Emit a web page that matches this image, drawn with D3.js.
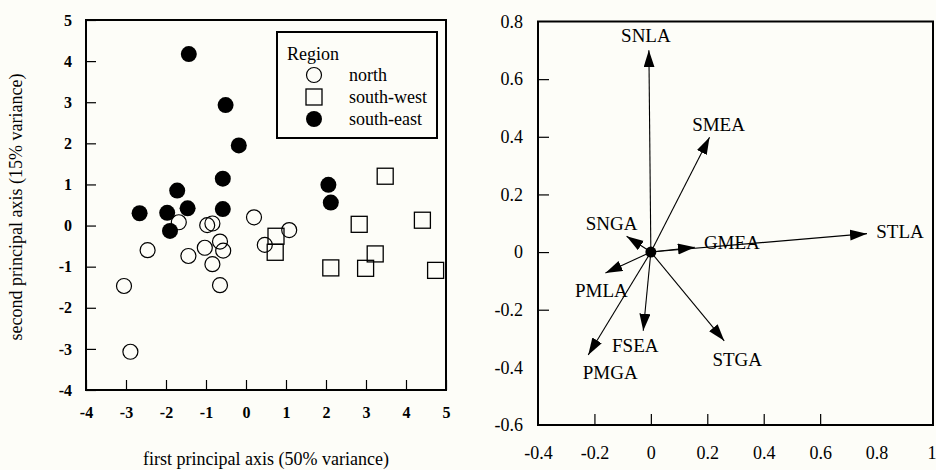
<!DOCTYPE html>
<html>
<head>
<meta charset="utf-8">
<script src="https://cdn.jsdelivr.net/npm/d3@7"></script>
<style>
  body { margin: 0; background: #fdfdf8; }
  svg { display: block; }
  text { font-family: "Liberation Serif", "Times New Roman", serif; fill: #000; }
</style>
</head>
<body>
<div id="chart"></div>
<script>
// PCA scores
const north = [
  [-1.68, 0.08], [-0.97, 0.01], [-0.84, 0.05], [0.2, 0.2], [1.08, -0.11],
  [0.47, -0.47], [-2.46, -0.6], [-1.44, -0.74], [-1.03, -0.54], [-0.65, -0.39],
  [-0.57, -0.61], [-0.84, -0.94], [-0.65, -1.45], [-3.05, -1.47], [-2.89, -3.07]
];
const southWest = [
  [0.75, -0.26], [0.73, -0.65], [2.83, 0.03], [4.41, 0.13], [3.23, -0.69],
  [2.12, -1.03], [2.99, -1.04], [4.74, -1.09], [3.48, 1.2]
];
const southEast = [
  [-1.43, 4.17], [-0.51, 2.93], [-0.18, 1.95], [-0.58, 1.14], [-1.72, 0.85],
  [2.06, 0.99], [2.12, 0.56], [-2.66, 0.3], [-1.97, 0.31], [-1.46, 0.42],
  [-0.58, 0.4], [-1.9, -0.13]
];
const scoreTicks = [-4, -3, -2, -1, 0, 1, 2, 3, 4, 5];

// loadings
const variables = ['SNLA', 'SMEA', 'STLA', 'GMEA', 'SNGA', 'PMLA', 'PMGA', 'FSEA', 'STGA'];
const loadX = [-0.007, 0.208, 0.766, 0.156, -0.086, -0.161, -0.222, -0.027, 0.26];
const loadY = [0.70, 0.398, 0.064, 0.017, 0.055, -0.073, -0.357, -0.273, -0.308];
const loadXTicks = [-0.4, -0.2, 0, 0.2, 0.4, 0.6, 0.8, 1];
const loadYTicks = [-0.6, -0.4, -0.2, 0, 0.2, 0.4, 0.6, 0.8];

// label offsets from the arrow tips (px)
const labelOffset = {
  SNLA: [-3, -8], SMEA: [9, -6], STLA: [33, 4], GMEA: [37, 1.5], SNGA: [-15, -6],
  PMLA: [-4, 24], PMGA: [22, 24], FSEA: [-8, 21], STGA: [13, 25]
};

// plain hyphen for negatives, like the original
const fmt = d => {
  const s = (d === 0 || Number.isInteger(d)) ? String(d) : d.toFixed(1);
  return s.replace('\u2212', '-');
};

const W = 936, H = 470;
const svg = d3.select('#chart').append('svg').attr('width', W).attr('height', H);
svg.append('rect').attr('width', W).attr('height', H).attr('fill', '#fdfdf8');

// ---------- left: scores ----------
const x1 = d3.scaleLinear().domain([-4, 5]).range([86, 446]);
const y1 = d3.scaleLinear().domain([-4, 5]).range([390, 20]);

const left = svg.append('g');

left.append('g')
  .attr('transform', `translate(0,${y1.range()[0]})`)
  .call(d3.axisBottom(x1).tickValues(scoreTicks).tickSize(-10).tickPadding(17).tickFormat(fmt))
  .call(g => g.select('.domain').remove());

left.append('g')
  .attr('transform', `translate(${x1.range()[0]},0)`)
  .call(d3.axisLeft(y1).tickValues(scoreTicks).tickSize(-10).tickPadding(14).tickFormat(fmt))
  .call(g => g.select('.domain').remove());

left.selectAll('.tick line').attr('stroke', '#000').attr('stroke-width', 1.2);
left.selectAll('.tick text')
  .attr('font-size', 16).attr('font-weight', 'bold')
  .style('font-family', '"Liberation Serif", serif');

left.append('rect')
  .attr('x', x1(-4)).attr('y', y1(5))
  .attr('width', x1(5) - x1(-4)).attr('height', y1(-4) - y1(5))
  .attr('fill', 'none').attr('stroke', '#000').attr('stroke-width', 2);

left.selectAll('circle.north')
  .data(north).enter().append('circle')
  .attr('class', 'north')
  .attr('cx', d => x1(d[0])).attr('cy', d => y1(d[1]))
  .attr('r', 7.5)
  .attr('fill', 'none').attr('stroke', '#000').attr('stroke-width', 1.2);

left.selectAll('rect.sw')
  .data(southWest).enter().append('rect')
  .attr('class', 'sw')
  .attr('x', d => x1(d[0]) - 8).attr('y', d => y1(d[1]) - 8)
  .attr('width', 16).attr('height', 16)
  .attr('fill', 'none').attr('stroke', '#000').attr('stroke-width', 1.3);

left.selectAll('circle.se')
  .data(southEast).enter().append('circle')
  .attr('class', 'se')
  .attr('cx', d => x1(d[0])).attr('cy', d => y1(d[1]))
  .attr('r', 8)
  .attr('fill', '#000');

// legend
const lg = left.append('g');
lg.append('rect').attr('x', 277).attr('y', 32).attr('width', 160).attr('height', 106)
  .attr('fill', '#fdfdf8').attr('stroke', '#000').attr('stroke-width', 2);
lg.append('text').attr('x', 287).attr('y', 60).attr('font-size', 18).text('Region');
const legendItems = ['north', 'south-west', 'south-east'];
legendItems.forEach((name, i) => {
  const cy = 75 + i * 22;
  if (i === 0) {
    lg.append('circle').attr('cx', 314).attr('cy', cy).attr('r', 7.5)
      .attr('fill', 'none').attr('stroke', '#000').attr('stroke-width', 1.2);
  } else if (i === 1) {
    lg.append('rect').attr('x', 306).attr('y', cy - 8).attr('width', 16).attr('height', 16)
      .attr('fill', 'none').attr('stroke', '#000').attr('stroke-width', 1.3);
  } else {
    lg.append('circle').attr('cx', 314).attr('cy', cy).attr('r', 8).attr('fill', '#000');
  }
  lg.append('text').attr('x', 349).attr('y', cy).attr('dy', '0.33em')
    .attr('font-size', 18).text(name);
});

svg.append('text')
  .attr('transform', 'translate(22,207) rotate(-90)')
  .attr('text-anchor', 'middle').attr('font-size', 18)
  .text('second principal axis (15% variance)');
svg.append('text')
  .attr('x', 266).attr('y', 465)
  .attr('text-anchor', 'middle').attr('font-size', 18)
  .text('first principal axis (50% variance)');

// ---------- right: loadings ----------
const x2 = d3.scaleLinear().domain([-0.4, 1]).range([538, 933]);
const y2 = d3.scaleLinear().domain([-0.6, 0.8]).range([425, 21.5]);

const right = svg.append('g');

right.append('g')
  .attr('transform', `translate(0,${y2.range()[0]})`)
  .call(d3.axisBottom(x2).tickValues(loadXTicks).tickSize(-11).tickPadding(21).tickFormat(fmt))
  .call(g => g.select('.domain').remove());

right.append('g')
  .attr('transform', `translate(${x2.range()[0]},0)`)
  .call(d3.axisLeft(y2).tickValues(loadYTicks).tickSize(-11).tickPadding(15).tickFormat(fmt))
  .call(g => g.select('.domain').remove());

right.selectAll('.tick line').attr('stroke', '#000').attr('stroke-width', 1.2);
right.selectAll('.tick text')
  .attr('font-size', 18)
  .style('font-family', '"Liberation Serif", serif');
// outermost ticks sit on the frame
right.selectAll('.tick')
  .filter(d => d === -0.4 || d === 1 || d === -0.6 || d === 0.8)
  .select('line').remove();
// keep the last x label inside the page
right.selectAll('.tick').filter(d => d === 1).select('text')
  .attr('text-anchor', 'end').attr('x', 3);

right.append('rect')
  .attr('x', x2(-0.4)).attr('y', y2(0.8))
  .attr('width', x2(1) - x2(-0.4)).attr('height', y2(-0.6) - y2(0.8))
  .attr('fill', 'none').attr('stroke', '#000').attr('stroke-width', 2);

svg.append('defs').append('marker')
  .attr('id', 'head')
  .attr('markerUnits', 'userSpaceOnUse')
  .attr('markerWidth', 18).attr('markerHeight', 12)
  .attr('refX', 17).attr('refY', 5.5)
  .attr('orient', 'auto')
  .append('path').attr('d', 'M0,0 L17,5.5 L0,11 Z').attr('fill', '#000');

const loadings = variables.map((v, i) => ({ name: v, x: loadX[i], y: loadY[i] }));

right.selectAll('line.arrow')
  .data(loadings).enter().append('line')
  .attr('class', 'arrow')
  .attr('x1', x2(0)).attr('y1', y2(0))
  .attr('x2', d => x2(d.x)).attr('y2', d => y2(d.y))
  .attr('stroke', '#000').attr('stroke-width', 1.1)
  .attr('marker-end', 'url(#head)');

right.append('circle')
  .attr('cx', x2(0)).attr('cy', y2(0)).attr('r', 5.5).attr('fill', '#000');

right.selectAll('text.var')
  .data(loadings).enter().append('text')
  .attr('class', 'var')
  .attr('x', d => x2(d.x) + labelOffset[d.name][0])
  .attr('y', d => y2(d.y) + labelOffset[d.name][1])
  .attr('text-anchor', 'middle')
  .attr('font-size', 19)
  .text(d => d.name);
</script>
</body>
</html>
